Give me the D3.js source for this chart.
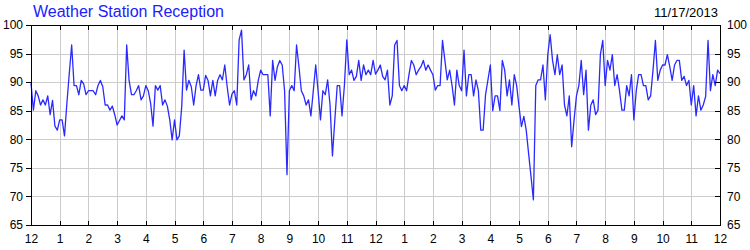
<!DOCTYPE html>
<head>
<meta charset="utf-8">
<script src="https://cdn.jsdelivr.net/npm/d3@7/dist/d3.min.js"></script>
<style>
body {
  margin: 0;
  background: #fff;
  font-family: "Liberation Sans", Arial, sans-serif;
}
.grid line {
  stroke: #cccccc;
  shape-rendering: crispEdges;
}
.grid path { display: none; }
.frame {
  fill: none;
  stroke: #000;
  shape-rendering: crispEdges;
}
.axis path { display: none; }
.axis line { stroke: #000; shape-rendering: crispEdges; }
.axis text { font-size: 12px; fill: #000; font-family: "Liberation Sans", Arial, sans-serif; }
</style>
</head>
<body>
<div id="chart"></div>
<script>

const chartTitle = "Weather Station Reception";
const chartDate = "11/17/2013";

// hour ticks across the day, midnight to midnight
const hourTicks = d3.range(0, 25);
const hourLabels = ["12","1","2","3","4","5","6","7","8","9","10","11",
                    "12","1","2","3","4","5","6","7","8","9","10","11","12"];
const yTicks = [65, 70, 75, 80, 85, 90, 95, 100];

// reception %, one reading every 5 minutes
const readings = [
  89.8, 85.1, 88.5, 87.6, 86.0, 86.9, 86.0, 87.6, 84.3, 86.8, 82.3, 81.6,
  83.4, 83.4, 80.6, 86.3, 91.5, 96.5, 89.4, 89.4, 87.8, 90.3, 89.7, 87.8,
  88.5, 88.5, 88.5, 87.8, 89.4, 90.3, 89.2, 86.0, 86.0, 85.1, 85.8, 84.3,
  82.5, 83.3, 84.1, 83.4, 96.5, 90.3, 87.8, 87.8, 88.5, 89.4, 86.9, 87.6,
  89.4, 88.5, 86.3, 82.3, 89.4, 88.6, 89.4, 86.0, 86.9, 85.8, 83.4, 79.9,
  83.4, 79.9, 80.6, 85.7, 95.6, 88.6, 90.3, 89.2, 86.0, 89.4, 91.3, 88.6,
  88.6, 91.2, 90.3, 87.6, 90.3, 87.6, 90.3, 91.3, 90.4, 93.0, 89.2, 86.0,
  87.9, 88.5, 86.0, 97.4, 99.1, 90.4, 91.3, 93.0, 86.9, 88.5, 87.6, 90.3,
  92.1, 91.3, 91.3, 91.3, 84.1, 93.8, 90.3, 92.7, 93.8, 93.0, 88.5, 73.8,
  88.5, 89.4, 88.5, 96.5, 92.7, 88.5, 87.6, 86.0, 86.9, 84.1, 88.5, 93.0,
  88.5, 83.4, 88.5, 87.8, 90.4, 86.0, 77.1, 83.4, 89.4, 89.4, 84.1, 89.4,
  97.4, 91.3, 92.1, 90.3, 91.0, 93.8, 90.3, 93.0, 91.3, 92.1, 91.3, 93.8,
  91.4, 92.1, 93.0, 91.0, 90.4, 92.1, 86.0, 87.6, 96.5, 97.3, 89.4, 88.5,
  89.4, 88.5, 91.3, 93.8, 93.0, 91.3, 92.1, 92.7, 93.8, 92.1, 93.0, 92.1,
  91.3, 88.6, 89.4, 89.4, 97.3, 93.8, 90.4, 92.1, 89.4, 86.0, 92.1, 89.4,
  88.5, 95.6, 87.6, 91.3, 91.3, 87.6, 90.4, 88.5, 81.6, 81.6, 87.8, 90.4,
  93.0, 85.0, 87.6, 87.6, 85.0, 93.8, 92.1, 87.6, 90.4, 86.0, 91.3, 89.4,
  85.7, 82.2, 84.0, 81.6, 77.5, 73.5, 69.4, 89.4, 90.4, 90.4, 93.0, 86.9,
  94.8, 98.3, 93.8, 91.3, 94.8, 91.3, 93.0, 86.0, 84.1, 87.6, 78.7, 83.4,
  87.6, 89.4, 93.8, 87.8, 92.1, 81.6, 86.0, 86.9, 84.3, 85.1, 94.8, 97.3,
  89.4, 93.8, 92.1, 94.8, 89.4, 91.3, 88.5, 85.1, 85.1, 89.4, 87.6, 91.3,
  83.4, 88.5, 91.3, 91.3, 89.4, 89.4, 86.9, 87.6, 92.1, 97.3, 90.3, 92.1,
  93.0, 93.0, 94.8, 92.7, 90.3, 93.0, 93.8, 93.8, 90.3, 91.0, 89.4, 90.3,
  86.0, 89.4, 84.1, 87.6, 85.1, 86.0, 87.5, 97.3, 88.5, 91.3, 89.4, 92.1,
  91.5
];

let margin = {top: 25, right: 30, bottom: 25, left: 31},
    width = 750 - margin.left - margin.right,
    height = 250 - margin.top - margin.bottom;

let svg = d3.select("#chart").append("svg")
    .attr("width", 750)
    .attr("height", 250);

let g = svg.append("g")
    .attr("transform", "translate(" + margin.left + "," + margin.top + ")");

let x = d3.scaleLinear().domain([0, 24]).range([0, width]),
    y = d3.scaleLinear().domain([65, 100]).range([height, 0]);

// grid
g.append("g")
    .attr("class", "grid")
    .call(d3.axisLeft(y).tickValues(yTicks).tickSize(-width).tickFormat(""));
g.append("g")
    .attr("class", "grid")
    .attr("transform", "translate(0," + height + ")")
    .call(d3.axisBottom(x).tickValues(hourTicks).tickSize(-height).tickFormat(""));

// line
let line = d3.line()
    .x(function(d, i) { return x(i / 12); })
    .y(function(d) { return y(d); });

g.append("path")
    .datum(readings)
    .attr("fill", "none")
    .attr("stroke", "#2a2aff")
    .attr("stroke-width", 1.3)
    .attr("stroke-linejoin", "round")
    .attr("d", line);

// frame
g.append("rect")
    .attr("class", "frame")
    .attr("x", 0.5)
    .attr("y", 0.5)
    .attr("width", width)
    .attr("height", height);

// axes
g.append("g")
    .attr("class", "axis")
    .attr("transform", "translate(0," + height + ")")
    .call(d3.axisBottom(x).tickValues(hourTicks).tickSize(-4).tickPadding(9)
      .tickFormat(function(d, i) { return hourLabels[i]; }));

g.append("g")
    .attr("class", "axis")
    .call(d3.axisTop(x).tickValues(hourTicks).tickSize(-5).tickFormat(""));

g.append("g")
    .attr("class", "axis")
    .call(d3.axisLeft(y).tickValues(yTicks).tickSize(5).tickPadding(3));

g.append("g")
    .attr("class", "axis")
    .attr("transform", "translate(" + width + ",0)")
    .call(d3.axisRight(y).tickValues(yTicks).tickSize(-5).tickPadding(7));

// title and date
svg.append("text")
    .attr("x", 33)
    .attr("y", 17)
    .attr("fill", "#2020ff")
    .style("font-size", "16px")
    .text(chartTitle);

svg.append("text")
    .attr("x", 718)
    .attr("y", 17)
    .attr("text-anchor", "end")
    .attr("fill", "#000")
    .style("font-size", "13px")
    .text(chartDate);

</script>
</body>
